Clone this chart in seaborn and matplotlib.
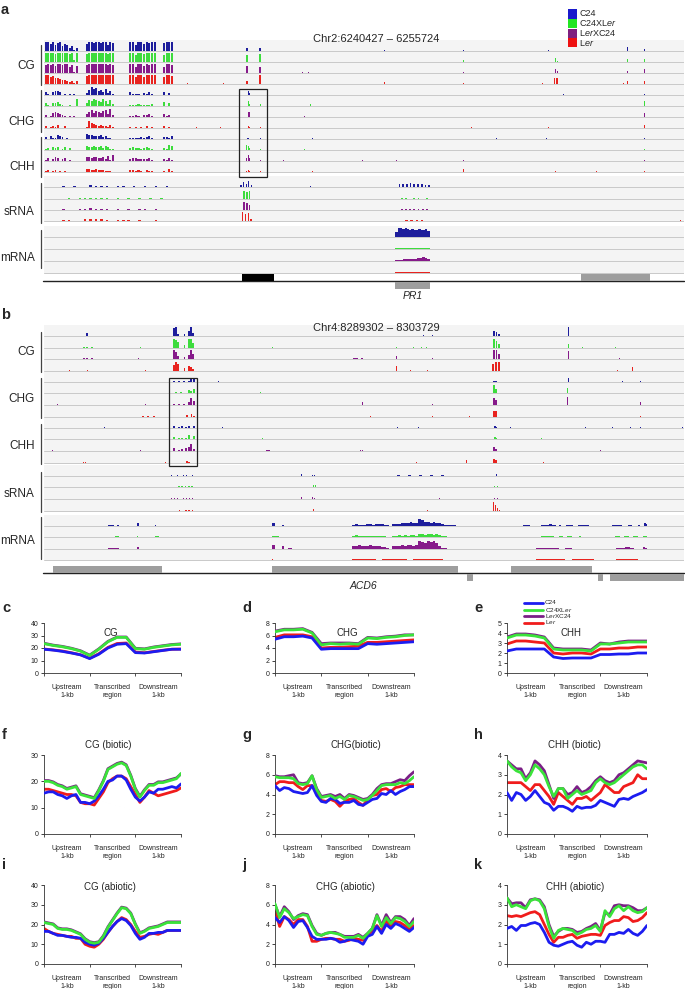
import numpy as np
import pandas as pd
import seaborn as sns
import matplotlib
matplotlib.use("Agg")
import matplotlib.pyplot as plt
from matplotlib.patches import Rectangle
from matplotlib.lines import Line2D
from matplotlib import font_manager

W, H = 685, 989

sns.set_theme(style="white")
installed = {f.name for f in font_manager.fontManager.ttflist}
main_font = "Liberation Sans Narrow" if "Liberation Sans Narrow" in installed else "Liberation Sans"
plt.rcParams["font.family"] = [main_font, "DejaVu Sans"]
plt.rcParams["mathtext.fontset"] = "custom"
plt.rcParams["mathtext.rm"] = main_font
plt.rcParams["mathtext.it"] = main_font + ":italic"

samples = ["C24", "C24XLer", "LerXC24", "Ler"]
sample_labels = ["C24", "C24XL$\\it{er}$", "L$\\it{er}$XC24", "L$\\it{er}$"]
groups = ["CG", "CHG", "CHH", "sRNA", "mRNA"]

# ---------------- genome browser tracks: (start kb, end kb, bar heights) ----------------
a_region = "Chr2:6240427 – 6255724"
a_length_kb = 15.297
b_region = "Chr4:8289302 – 8303729"
b_length_kb = 14.427

a_cg_c24 = [(0.02, 0.81, [0.9, 1.0, 0.7, 0.95, 0.6, 0.85, 0.9, 0.5, 0.75, 0.6, 0.35, 0.55, 0.15, 0.3]),
            (1.00, 1.67, [0.7, 0.95, 1.0, 0.8, 1.0, 0.9, 0.85, 1.0, 0.95, 0.6, 1.0, 0.8]),
            (2.03, 2.68, [0.9, 1.0, 0.6, 1.0, 0.95, 0.7, 1.0, 0.85, 1.0, 1.0]),
            (2.84, 3.08, [0.8, 1.0, 0.9, 1.0]),
            (4.83, 4.87, [0.3]), (5.14, 5.18, [0.35]), (8.13, 8.16, [0.1]), (10.0, 10.03, [0.15]),
            (12.05, 12.08, [0.08]), (13.92, 13.95, [0.45]), (14.33, 14.36, [0.25])]
a_cg_f1 = [(0.02, 0.81, [0.95, 1.0, 0.9, 1.0, 0.85, 0.95, 1.0, 0.9, 0.95, 1.0, 0.8, 0.9, 0.2, 0.9]),
           (1.00, 1.67, [0.8, 1.0, 1.0, 0.95, 1.0, 1.0, 0.9, 1.0, 1.0, 0.85, 1.0, 0.9]),
           (2.03, 2.68, [1.0, 1.0, 0.7, 1.0, 1.0, 0.8, 1.0, 0.9, 1.0, 1.0]),
           (2.84, 3.08, [0.7, 1.0, 1.0, 0.9]),
           (4.83, 4.87, [0.75]), (5.14, 5.18, [0.8]), (10.0, 10.03, [0.2]), (12.2, 12.24, [0.4]),
           (12.27, 12.3, [0.15]), (13.92, 13.95, [0.3]), (14.33, 14.36, [0.35])]
a_cg_f2 = [(0.02, 0.81, [0.85, 0.9, 0.8, 0.9, 0.7, 0.9, 0.95, 0.8, 0.9, 0.95, 0.6, 0.8, 0.1, 0.7]),
           (1.00, 1.67, [0.8, 0.95, 1.0, 0.9, 1.0, 0.95, 0.9, 1.0, 1.0, 0.8, 0.95, 0.85]),
           (2.03, 2.68, [0.9, 0.95, 0.6, 0.95, 1.0, 0.7, 0.9, 0.85, 1.0, 0.95]),
           (2.84, 3.08, [0.6, 0.9, 0.95, 0.85]),
           (3.5, 3.52, [0.08]), (3.98, 4.0, [0.08]), (4.83, 4.87, [0.7]), (5.14, 5.18, [0.6]),
           (6.16, 6.19, [0.1]), (6.3, 6.33, [0.1]), (10.0, 10.03, [0.15]), (12.2, 12.24, [0.45]),
           (12.27, 12.3, [0.2]), (13.92, 13.95, [0.25]), (14.33, 14.36, [0.45])]
a_cg_ler = [(0.02, 0.81, [0.9, 0.95, 0.7, 0.85, 0.6, 0.6, 0.5, 0.4, 0.45, 0.3, 0.25, 0.3, 0.1, 0.35]),
            (1.00, 1.67, [0.8, 1.0, 1.0, 0.95, 1.0, 1.0, 1.0, 1.0, 0.95, 0.9, 1.0, 0.9]),
            (2.03, 2.68, [0.95, 1.0, 0.7, 1.0, 1.0, 0.75, 1.0, 0.9, 1.0, 0.95]),
            (2.84, 3.08, [0.7, 0.95, 1.0, 0.85]),
            (3.42, 3.45, [0.08]), (4.27, 4.3, [0.1]), (4.83, 4.87, [0.3]), (5.14, 5.18, [0.9]),
            (8.13, 8.16, [0.2]), (8.5, 8.52, [0.08]), (10.0, 10.03, [0.1]), (11.9, 11.93, [0.1]),
            (12.18, 12.21, [0.6]), (12.24, 12.28, [0.6]), (13.83, 13.86, [0.1]), (13.92, 13.95, [0.3]),
            (14.33, 14.36, [0.3])]

a_chg_c24 = [(0.02, 0.81, [0.35, 0.1, 0.0, 0.3, 0.45, 0.4, 0.3, 0.0, 0.15, 0.0, 0.1, 0.0, 0.1, 0.0]),
             (1.00, 1.67, [0.2, 0.5, 0.8, 0.6, 0.7, 0.4, 0.5, 0.3, 0.6, 0.2, 0.4, 0.1]),
             (2.03, 2.68, [0.3, 0.15, 0.15, 0.1, 0.0, 0.2, 0.1, 0.3, 0.15, 0.0]),
             (2.84, 3.08, [0.3, 0.0, 0.25, 0.0]),
             (4.88, 4.93, [0.4, 0.2]), (12.4, 12.43, [0.08]), (14.34, 14.37, [0.1])]
a_chg_f1 = [(0.02, 0.81, [0.3, 0.1, 0.0, 0.35, 0.3, 0.4, 0.2, 0.1, 0.0, 0.0, 0.1, 0.0, 0.0, 0.75]),
            (1.00, 1.67, [0.3, 0.6, 0.5, 0.7, 0.6, 0.5, 0.4, 0.7, 0.5, 0.2, 0.6, 0.2]),
            (2.03, 2.68, [0.1, 0.15, 0.1, 0.2, 0.1, 0.15, 0.1, 0.1, 0.2, 0.0]),
            (2.84, 3.08, [0.4, 0.0, 0.3, 0.0]),
            (4.88, 4.93, [0.5, 0.2]), (5.15, 5.18, [0.2]), (6.35, 6.38, [0.2]), (14.34, 14.37, [0.5])]
a_chg_f2 = [(0.02, 0.81, [0.25, 0.0, 0.1, 0.4, 0.5, 0.45, 0.3, 0.2, 0.1, 0.0, 0.15, 0.0, 0.1, 0.0]),
            (1.00, 1.67, [0.3, 0.5, 0.7, 0.4, 0.6, 0.5, 0.45, 0.6, 0.7, 0.3, 0.8, 0.2]),
            (2.03, 2.68, [0.15, 0.1, 0.2, 0.1, 0.0, 0.2, 0.25, 0.3, 0.1, 0.0]),
            (2.84, 3.08, [0.3, 0.1, 0.2, 0.0]),
            (4.88, 4.93, [0.55, 0.5]), (6.2, 6.23, [0.1]), (14.34, 14.37, [0.4])]
a_chg_ler = [(0.02, 0.81, [0.2, 0.0, 0.1, 0.25, 0.1, 0.3, 0.0, 0.0, 0.2, 0.0, 0.0, 0.0, 0.0, 0.0]),
             (1.00, 1.67, [0.1, 0.7, 0.5, 0.4, 0.3, 0.2, 0.35, 0.25, 0.2, 0.1, 0.3, 0.1]),
             (2.03, 2.68, [0.1, 0.0, 0.15, 0.0, 0.1, 0.0, 0.25, 0.0, 0.1, 0.0]),
             (2.84, 3.08, [0.2, 0.0, 0.15, 0.0]),
             (3.62, 3.65, [0.1]), (4.2, 4.23, [0.1]), (4.88, 4.93, [0.25, 0.1]), (5.15, 5.18, [0.15]),
             (10.2, 10.23, [0.1]), (12.05, 12.08, [0.1]), (14.34, 14.37, [0.3])]

a_chh_c24 = [(0.02, 0.81, [0.2, 0.0, 0.3, 0.1, 0.1, 0.45, 0.3, 0.2, 0.0, 0.1, 0.0, 0.0, 0.0, 0.0]),
             (1.00, 1.67, [0.5, 0.4, 0.4, 0.35, 0.3, 0.3, 0.4, 0.2, 0.3, 0.1, 0.1, 0.0]),
             (2.03, 2.68, [0.1, 0.1, 0.1, 0.15, 0.2, 0.15, 0.2, 0.3, 0.1, 0.0]),
             (2.84, 3.08, [0.2, 0.25, 0.1, 0.3]),
             (4.85, 4.9, [0.1, 0.1]), (5.15, 5.18, [0.1]), (6.4, 6.43, [0.08]), (10.8, 10.84, [0.08]),
             (12.0, 12.03, [0.08]), (14.34, 14.37, [0.08])]
a_chh_f1 = [(0.02, 0.81, [0.1, 0.25, 0.0, 0.3, 0.2, 0.35, 0.0, 0.1, 0.3, 0.0, 0.2, 0.0, 0.0, 0.0]),
            (1.00, 1.67, [0.4, 0.35, 0.3, 0.4, 0.35, 0.3, 0.4, 0.2, 0.4, 0.3, 0.1, 0.1]),
            (2.03, 2.68, [0.2, 0.3, 0.25, 0.2, 0.1, 0.2, 0.3, 0.2, 0.1, 0.0]),
            (2.84, 3.08, [0.2, 0.1, 0.5, 0.4]),
            (4.83, 4.93, [0.5, 0.45, 0.2]), (5.15, 5.18, [0.1]), (6.2, 6.23, [0.1]), (14.34, 14.37, [0.08])]
a_chh_f2 = [(0.02, 0.81, [0.15, 0.3, 0.0, 0.2, 0.4, 0.3, 0.0, 0.25, 0.3, 0.0, 0.1, 0.0, 0.0, 0.0]),
            (1.00, 1.67, [0.4, 0.4, 0.35, 0.4, 0.4, 0.35, 0.3, 0.4, 0.2, 0.5, 0.1, 0.6]),
            (2.03, 2.68, [0.2, 0.3, 0.3, 0.2, 0.2, 0.25, 0.2, 0.3, 0.1, 0.0]),
            (2.84, 3.08, [0.2, 0.1, 0.3, 0.1]),
            (4.83, 4.93, [0.3, 0.6, 0.3]), (5.15, 5.18, [0.08]), (5.7, 5.73, [0.08]), (7.6, 7.64, [0.08]),
            (8.4, 8.43, [0.08]), (10.0, 10.03, [0.08]), (14.34, 14.37, [0.1])]
a_chh_ler = [(0.02, 0.81, [0.1, 0.25, 0.0, 0.1, 0.2, 0.0, 0.15, 0.0, 0.1, 0.0, 0.0, 0.0, 0.0, 0.0]),
             (1.00, 1.67, [0.3, 0.3, 0.2, 0.25, 0.3, 0.2, 0.25, 0.2, 0.15, 0.1, 0.1, 0.0]),
             (2.03, 2.68, [0.2, 0.25, 0.1, 0.2, 0.1, 0.0, 0.2, 0.15, 0.1, 0.0]),
             (2.84, 3.08, [0.15, 0.0, 0.3, 0.1]),
             (4.83, 4.93, [0.15, 0.2, 0.1]), (5.15, 5.18, [0.1]), (6.4, 6.43, [0.1]), (10.0, 10.03, [0.3]),
             (12.2, 12.23, [0.1]), (13.2, 13.23, [0.08]), (14.34, 14.37, [0.1])]

a_srna_c24 = [(0.4, 3.0, [0.08, 0.0, 0.1, 0.0, 0.0, 0.2, 0.1, 0.15, 0.1, 0.0, 0.1, 0.08, 0.0, 0.1, 0.0, 0.08, 0.0, 0.08, 0.0, 0.08]),
              (4.68, 4.98, [0.2, 0.5, 0.35, 0.6, 0.2]), (6.35, 6.38, [0.08]),
              (8.45, 9.25, [0.3, 0.35, 0.3, 0.4, 0.35, 0.3, 0.35, 0.25, 0.2])]
a_srna_f1 = [(0.4, 3.0, [0.0, 0.08, 0.0, 0.08, 0.1, 0.08, 0.1, 0.08, 0.08, 0.0, 0.08, 0.0, 0.08, 0.0, 0.08, 0.0, 0.08, 0.0, 0.08, 0.0]),
             (4.75, 4.95, [0.8, 0.75, 0.8]), (8.5, 9.2, [0.08, 0.08, 0.0, 0.08, 0.08, 0.0, 0.08]), (10.5, 10.52, [0.08])]
a_srna_f2 = [(0.4, 3.0, [0.08, 0.0, 0.0, 0.1, 0.15, 0.2, 0.1, 0.1, 0.08, 0.0, 0.1, 0.0, 0.08, 0.0, 0.08, 0.08, 0.0, 0.08, 0.0, 0.0]),
             (4.75, 4.95, [0.8, 0.7, 0.5]), (8.5, 9.2, [0.1, 0.1, 0.08, 0.1, 0.1, 0.08, 0.1])]
a_srna_ler = [(0.4, 3.0, [0.08, 0.1, 0.0, 0.0, 0.2, 0.25, 0.2, 0.2, 0.15, 0.0, 0.1, 0.1, 0.08, 0.0, 0.08, 0.0, 0.0, 0.08, 0.0, 0.0]),
              (4.72, 4.98, [0.9, 0.7, 0.85, 0.2]), (8.6, 9.1, [0.1, 0.15, 0.1, 0.15]), (15.2, 15.23, [0.08])]

a_mrna_c24 = [(8.4, 9.22, [0.5, 1.0, 0.95, 0.85, 0.9, 0.8, 0.75, 0.8, 0.7, 0.75, 0.8, 0.75, 0.7, 0.8, 0.6])]
a_mrna_f1 = [(8.4, 9.22, [0.1, 0.1, 0.1, 0.1, 0.1, 0.1, 0.1, 0.1, 0.1, 0.1])]
a_mrna_f2 = [(8.4, 9.22, [0.1, 0.15, 0.15, 0.2, 0.2, 0.2, 0.2, 0.25, 0.25, 0.3, 0.35, 0.4, 0.35, 0.2])]
a_mrna_ler = [(8.4, 9.22, [0.08, 0.08, 0.08, 0.08, 0.08, 0.08, 0.08, 0.08, 0.08, 0.08])]

a_tracks = {"CG": [a_cg_c24, a_cg_f1, a_cg_f2, a_cg_ler],
            "CHG": [a_chg_c24, a_chg_f1, a_chg_f2, a_chg_ler],
            "CHH": [a_chh_c24, a_chh_f1, a_chh_f2, a_chh_ler],
            "sRNA": [a_srna_c24, a_srna_f1, a_srna_f2, a_srna_ler],
            "mRNA": [a_mrna_c24, a_mrna_f1, a_mrna_f2, a_mrna_ler]}
a_highlight = (4.66, 5.33)
a_exon_black = [(4.73, 5.50)]
a_exon_top = [(12.83, 14.48)]
a_exon_bottom = [(8.39, 9.23)]
a_gene_name = ("PR1", 8.81)

b_cg_c24 = [(0.95, 1.0, [0.3]), (2.91, 3.05, [0.8, 1.0, 0.2]), (3.15, 3.19, [0.2]), (3.24, 3.38, [0.5, 1.0, 0.3]),
            (8.54, 8.56, [0.08]), (8.75, 8.77, [0.08]), (10.12, 10.28, [0.5, 0.4, 0.25]), (11.8, 11.84, [0.9])]
b_cg_f1 = [(0.88, 1.12, [0.15, 0.15, 0.0, 0.15]), (2.16, 2.18, [0.08]), (2.91, 3.05, [1.0, 0.8, 0.6]),
           (3.15, 3.19, [0.3]), (3.24, 3.38, [1.0, 1.0, 0.5]), (5.14, 5.16, [0.08]), (7.93, 7.96, [0.1]),
           (8.32, 8.35, [0.08]), (8.5, 8.53, [0.08]), (8.6, 8.63, [0.08]), (10.12, 10.28, [1.0, 0.7, 0.45]),
           (11.8, 11.84, [0.45]), (12.13, 12.16, [0.08]), (12.87, 12.9, [0.08])]
b_cg_f2 = [(0.88, 1.12, [0.15, 0.1, 0.0, 0.15]), (2.12, 2.14, [0.08]), (2.91, 3.05, [1.0, 0.7, 0.3]),
           (3.15, 3.19, [0.25]), (3.24, 3.38, [0.4, 0.9, 0.5]), (6.95, 7.2, [0.08, 0.08, 0.0, 0.08]),
           (7.93, 7.96, [0.3]), (8.75, 8.77, [0.1]), (10.12, 10.28, [1.0, 0.9, 0.5]), (11.8, 11.84, [0.8]),
           (12.96, 12.99, [0.08])]
b_cg_ler = [(0.56, 0.58, [0.1]), (0.97, 1.0, [0.15]), (2.28, 2.3, [0.1]), (2.91, 3.05, [0.6, 1.0, 0.7]),
            (3.15, 3.19, [0.3]), (3.24, 3.38, [0.5, 0.4, 0.2]), (7.93, 7.96, [0.5]), (8.25, 8.27, [0.08]),
            (8.63, 8.65, [0.08]), (10.1, 10.28, [0.7, 1.0, 1.0]), (12.92, 12.95, [0.08]), (13.25, 13.28, [0.45])]

b_chg_c24 = [(2.91, 3.4, [0.1, 0.0, 0.1, 0.0, 0.1, 0.0, 0.15, 0.35, 0.3]), (3.92, 3.95, [0.08]),
             (10.12, 10.22, [0.15, 0.15]), (11.8, 11.83, [0.4]), (13.03, 13.06, [0.08]), (13.43, 13.46, [0.08])]
b_chg_f1 = [(2.95, 3.4, [0.08, 0.0, 0.08, 0.0, 0.0, 0.35, 0.2, 0.4]), (4.87, 4.9, [0.08]),
            (10.12, 10.22, [0.8, 0.4]), (11.79, 11.82, [0.5])]
b_chg_f2 = [(0.29, 0.31, [0.08]), (2.28, 2.3, [0.08]), (2.91, 3.4, [0.1, 0.0, 0.08, 0.0, 0.1, 0.0, 0.3, 0.7, 0.4]),
            (4.0, 4.02, [0.08]), (7.17, 7.2, [0.35]), (8.75, 8.77, [0.08]), (10.12, 10.22, [0.7, 0.5]),
            (11.79, 11.82, [0.8]), (13.43, 13.46, [0.3])]
b_chg_ler = [(2.2, 2.5, [0.08, 0.0, 0.08, 0.0, 0.08]), (3.2, 3.4, [0.2, 0.0, 0.3, 0.15]), (7.35, 7.37, [0.08]),
             (8.75, 8.77, [0.08]), (9.58, 9.6, [0.08]), (10.12, 10.22, [0.6, 0.6]), (13.43, 13.46, [0.08])]

b_chh_c24 = [(1.35, 1.37, [0.1]), (2.91, 3.4, [0.25, 0.0, 0.1, 0.2, 0.0, 0.15, 0.25, 0.0, 0.2]), (4.01, 4.03, [0.08]),
             (7.96, 7.98, [0.08]), (8.43, 8.45, [0.08]), (10.15, 10.22, [0.2, 0.15]), (10.5, 10.52, [0.1]),
             (12.19, 12.22, [0.08]), (12.8, 12.83, [0.08]), (13.21, 13.24, [0.1]), (13.43, 13.46, [0.08]),
             (14.38, 14.41, [0.08])]
b_chh_f1 = [(2.91, 3.4, [0.2, 0.0, 0.08, 0.1, 0.0, 0.1, 0.4, 0.0, 0.35]), (4.91, 4.93, [0.08]),
            (10.15, 10.22, [0.25, 0.15]), (11.2, 11.22, [0.08])]
b_chh_f2 = [(0.18, 0.2, [0.08]), (2.16, 2.18, [0.08]), (2.91, 3.4, [0.3, 0.0, 0.1, 0.2, 0.0, 0.3, 0.45, 0.7, 0.2]),
            (5.0, 5.1, [0.08, 0.08]), (7.12, 7.2, [0.1, 0.08]), (10.12, 10.22, [0.45, 0.2]), (12.53, 12.56, [0.08])]
b_chh_ler = [(0.88, 0.95, [0.1, 0.08]), (2.73, 2.75, [0.15]), (3.2, 3.3, [0.2, 0.1]), (8.38, 8.4, [0.1]),
             (9.51, 9.54, [0.3]), (10.12, 10.22, [0.4, 0.3]), (11.25, 11.27, [0.08])]

b_srna_c24 = [(2.84, 3.38, [0.08, 0.0, 0.08, 0.0, 0.08, 0.08, 0.0, 0.08]), (5.77, 5.84, [0.25]),
              (6.04, 6.12, [0.15, 0.15]), (7.93, 9.05, [0.08, 0.0, 0.08, 0.0, 0.08, 0.0, 0.08, 0.0, 0.08]),
              (10.18, 10.23, [0.2]), (12.5, 12.52, [0.08])]
b_srna_f1 = [(3.0, 3.38, [0.08, 0.08, 0.08, 0.08, 0.08]), (5.8, 5.83, [0.1]), (6.04, 6.14, [0.2, 0.2]),
             (10.12, 10.25, [0.15, 0.15])]
b_srna_f2 = [(2.84, 3.38, [0.08, 0.08, 0.08, 0.0, 0.08, 0.1, 0.08, 0.1]), (5.77, 5.84, [0.2]),
             (6.04, 6.12, [0.2, 0.1]), (8.9, 8.93, [0.08]), (10.12, 10.25, [0.15, 0.1])]
b_srna_ler = [(3.02, 3.38, [0.08, 0.0, 0.08, 0.08, 0.08]), (5.8, 5.83, [0.08]), (6.06, 6.1, [0.2]),
              (8.63, 8.66, [0.08]), (10.1, 10.3, [0.9, 0.6, 0.3, 0.1])]

b_mrna_c24 = [(1.45, 1.7, [0.1, 0.1, 0.0, 0.1]), (2.1, 2.14, [0.35]), (2.5, 2.53, [0.08]), (5.14, 5.2, [0.35]),
              (5.37, 5.42, [0.15]),
              (6.94, 9.28, [0.15, 0.2, 0.15, 0.12, 0.15, 0.2, 0.18, 0.15, 0.2, 0.25, 0.2, 0.15, 0.08, 0.0,
                            0.2, 0.2, 0.25, 0.3, 0.35, 0.3, 0.4, 0.35, 0.3,
                            0.75, 0.6, 0.4, 0.45, 0.35, 0.4, 0.35, 0.3, 0.2, 0.15, 0.1, 0.08, 0.08]),
              (10.8, 10.95, [0.08, 0.08]), (11.2, 11.55, [0.1, 0.15, 0.25, 0.15]), (11.62, 11.66, [0.08]),
              (11.76, 11.92, [0.15, 0.1]), (12.04, 12.28, [0.1, 0.1, 0.1]), (12.8, 13.03, [0.08, 0.08, 0.1]),
              (13.16, 13.26, [0.15, 0.1]), (13.4, 13.43, [0.1]), (13.52, 13.6, [0.35, 0.2])]
b_mrna_f1 = [(1.6, 1.7, [0.08]), (2.1, 2.13, [0.08]), (2.5, 2.6, [0.08, 0.08]), (5.14, 5.3, [0.1, 0.1]),
             (6.94, 9.28, [0.15, 0.18, 0.15, 0.15, 0.12, 0.15, 0.15, 0.12, 0.15, 0.15, 0.12, 0.1, 0.0, 0.0,
                           0.15, 0.15, 0.2, 0.15, 0.2, 0.15, 0.2, 0.2, 0.15,
                           0.3, 0.3, 0.25, 0.3, 0.3, 0.25, 0.3, 0.2, 0.1, 0.08, 0.0, 0.0, 0.0]),
             (11.2, 11.5, [0.08, 0.1, 0.1]), (11.6, 11.9, [0.08, 0.0, 0.08]), (12.05, 12.1, [0.08]),
             (12.87, 13.6, [0.08, 0.0, 0.08, 0.0, 0.08, 0.0, 0.08])]
b_mrna_f2 = [(1.45, 1.7, [0.15, 0.1, 0.1, 0.1]), (2.1, 2.14, [0.2]), (5.14, 5.2, [0.4]), (5.37, 5.42, [0.3]),
             (5.5, 5.6, [0.08]),
             (6.94, 9.28, [0.3, 0.35, 0.4, 0.35, 0.3, 0.35, 0.4, 0.35, 0.3, 0.3, 0.25, 0.2, 0.08, 0.0,
                           0.3, 0.35, 0.3, 0.4, 0.35, 0.45, 0.4, 0.35, 0.4,
                           0.8, 0.75, 0.6, 0.85, 0.7, 0.8, 0.6, 0.3, 0.1, 0.08, 0.0, 0.0, 0.0]),
             (11.1, 11.6, [0.08, 0.15, 0.15, 0.15, 0.1]), (11.75, 11.9, [0.1, 0.1]),
             (12.9, 13.3, [0.08, 0.1, 0.2, 0.1]), (13.5, 13.6, [0.2, 0.15])]
b_mrna_ler = [(5.14, 5.17, [0.08]),
              (6.94, 9.0, [0.08, 0.08, 0.08, 0.08, 0.0, 0.08, 0.08, 0.08, 0.08, 0.0, 0.08, 0.08, 0.08, 0.08, 0.08]),
              (11.1, 12.4, [0.1, 0.1, 0.08, 0.1, 0.0, 0.1, 0.08, 0.1]), (12.9, 13.4, [0.08, 0.1, 0.08, 0.08])]

b_tracks = {"CG": [b_cg_c24, b_cg_f1, b_cg_f2, b_cg_ler],
            "CHG": [b_chg_c24, b_chg_f1, b_chg_f2, b_chg_ler],
            "CHH": [b_chh_c24, b_chh_f1, b_chh_f2, b_chh_ler],
            "sRNA": [b_srna_c24, b_srna_f1, b_srna_f2, b_srna_ler],
            "mRNA": [b_mrna_c24, b_mrna_f1, b_mrna_f2, b_mrna_ler]}
b_highlight = (2.82, 3.45)
b_exon_black = []
b_exon_top = [(0.2, 2.66), (5.14, 9.33), (10.53, 12.35)]
b_exon_bottom = [(9.53, 9.67), (12.49, 12.6), (12.76, 14.43)]
b_gene_name = ("ACD6", 7.19)

# ---------------- metaplot profiles (upstream 0-1, transcribed 1-2, downstream 2-3) ----------------
c_c24 = [19, 18.3, 17.3, 16, 14.5, 11.5, 15, 20, 23, 23.5, 16.3, 16, 17, 18, 19, 19]
c_f1 = [23.5, 22, 21, 19.5, 17.5, 14, 19, 25, 28.5, 28.5, 19.5, 19, 20.5, 21.5, 22.5, 23]
c_f2 = [23.8, 22.3, 21.3, 19.8, 17.8, 14.3, 19.3, 25.3, 28.8, 28.8, 19.8, 19.3, 20.8, 21.8, 22.8, 23.3]
c_ler = [19.2, 18.5, 17.6, 16.2, 14.6, 11.8, 15.4, 20.5, 23.6, 24.0, 16.8, 16.2, 17.2, 18.2, 19.0, 19.2]

d_c24 = [5.4, 5.8, 5.8, 5.9, 5.6, 3.8, 3.9, 3.9, 3.9, 3.9, 4.7, 4.6, 4.7, 4.8, 4.9, 5.0]
d_f1 = [6.6, 6.9, 6.9, 7.0, 6.4, 4.5, 4.7, 4.6, 4.7, 4.6, 5.6, 5.5, 5.7, 5.8, 6.0, 6.1]
d_f2 = [6.7, 7.0, 7.0, 7.1, 6.5, 4.7, 4.8, 4.8, 4.8, 4.7, 5.7, 5.6, 5.8, 5.9, 6.1, 6.1]
d_ler = [5.7, 6.1, 6.1, 6.1, 5.8, 4.0, 4.1, 4.1, 4.2, 4.3, 4.9, 4.9, 5.0, 5.1, 5.2, 5.3]

e_c24 = [2.2, 2.4, 2.4, 2.4, 2.4, 1.6, 1.45, 1.5, 1.5, 1.5, 1.85, 1.85, 1.9, 1.9, 2.0, 2.0]
e_f1 = [3.5, 3.8, 3.8, 3.7, 3.5, 2.4, 2.3, 2.3, 2.3, 2.2, 2.9, 2.9, 3.0, 3.1, 3.1, 3.1]
e_f2 = [3.6, 3.9, 3.9, 3.8, 3.6, 2.5, 2.4, 2.4, 2.4, 2.3, 3.0, 2.9, 3.1, 3.2, 3.2, 3.2]
e_ler = [2.9, 3.2, 3.2, 3.1, 3.0, 2.0, 1.9, 2.0, 2.0, 1.9, 2.4, 2.4, 2.5, 2.5, 2.6, 2.6]

f_c24 = [15.5, 16, 16, 15, 14.5, 13.5, 14.5, 15, 12, 12, 11.5, 12.5, 14.5, 17, 20, 20.5, 22, 22, 20.5, 17, 14,
         12.5, 14, 16, 15.5, 17, 17, 17.5, 18, 17.5, 19]
f_f1 = [20, 20, 19.5, 18.5, 18, 17, 17.5, 18, 15, 14.5, 14, 13.5, 16.5, 20, 24.5, 25.5, 26.5, 27, 26, 22, 17,
        14, 16.5, 18.5, 18.5, 19.5, 19.5, 20, 20.5, 21, 23]
f_f2 = [20.3, 20.3, 19.8, 18.8, 18.3, 17.3, 17.8, 18.3, 15.3, 14.8, 14.3, 13.8, 16.8, 20.3, 24.8, 25.8, 26.8,
        27.3, 26.3, 22.3, 17.3, 14.3, 16.8, 18.8, 18.8, 19.8, 19.8, 20.3, 20.8, 21.3, 22.8]
f_ler = [17, 17, 16.5, 16, 15.5, 15, 15, 14.5, 12, 11.5, 11.5, 11, 13.5, 16, 19.5, 21, 22, 22, 21, 18, 15, 12,
         14, 16.5, 15.5, 14.5, 15, 15.5, 16, 16.5, 17.5]

g_c24 = [4.9, 4.4, 4.7, 4.6, 4.3, 4.2, 4.1, 4.2, 4.9, 3.9, 3.3, 3.2, 3.6, 3.5, 3.1, 3.2, 3.2, 3.4, 3.0, 2.9, 3.2,
         3.5, 3.6, 4.1, 4.0, 4.4, 4.0, 4.3, 4.5, 4.8, 4.8]
g_f1 = [5.8, 5.7, 5.7, 5.7, 5.6, 5.1, 5.0, 5.1, 5.9, 4.5, 3.7, 3.8, 3.9, 3.6, 3.8, 3.5, 3.9, 3.8, 3.6, 3.4, 3.5,
        3.9, 4.4, 4.9, 5.0, 5.0, 5.0, 5.2, 5.1, 5.4, 5.8]
g_f2 = [5.9, 5.8, 5.8, 5.9, 6.0, 5.2, 5.1, 5.2, 5.9, 4.6, 3.8, 3.9, 4.0, 3.8, 4.0, 3.6, 4.0, 3.9, 3.7, 3.5, 3.6,
        4.0, 4.6, 5.0, 5.1, 5.1, 5.3, 5.5, 5.4, 5.9, 6.3]
g_ler = [5.0, 5.3, 5.3, 5.2, 5.2, 4.8, 4.5, 4.9, 4.9, 4.1, 3.4, 3.3, 3.5, 3.3, 2.8, 3.3, 3.5, 3.6, 3.2, 2.9, 3.5,
         3.9, 4.0, 4.5, 4.6, 4.3, 4.7, 4.8, 5.0, 5.0, 5.0]

h_c24 = [2.1, 1.7, 2.1, 2.0, 1.7, 1.9, 2.2, 1.9, 1.6, 1.5, 1.2, 1.4, 1.4, 1.3, 1.15, 1.4, 1.3, 1.35, 1.35, 1.45,
         1.7, 1.6, 1.5, 1.4, 1.75, 1.8, 1.75, 1.9, 2.0, 2.1, 2.25]
h_f1 = [3.7, 3.4, 3.2, 3.1, 2.7, 3.0, 3.5, 3.3, 3.0, 2.4, 1.9, 2.3, 2.3, 1.8, 2.0, 2.2, 2.0, 2.1, 2.2, 2.6, 2.8,
        2.6, 2.5, 2.6, 2.8, 3.0, 3.2, 3.4, 3.5, 3.5, 3.3]
h_f2 = [3.7, 3.5, 3.3, 3.3, 2.8, 3.1, 3.7, 3.5, 3.2, 2.5, 1.8, 2.3, 2.3, 2.0, 2.1, 2.4, 2.1, 2.2, 2.4, 2.7, 2.9,
        2.7, 2.6, 2.7, 3.0, 3.1, 3.3, 3.5, 3.7, 3.65, 3.6]
h_ler = [2.6, 2.6, 2.6, 2.6, 2.4, 2.2, 2.5, 2.5, 2.2, 1.9, 1.5, 2.1, 1.9, 1.7, 1.5, 1.8, 1.8, 1.9, 1.7, 1.9, 2.1,
         2.5, 2.3, 2.1, 2.1, 2.4, 2.5, 2.6, 3.0, 2.8, 2.8]

i_c24 = [16.5, 16.5, 15.5, 14.5, 14.5, 14, 13.5, 13.5, 13, 11, 10, 9.5, 10.5, 13, 16, 19, 21.5, 23, 22, 19.5,
         15.5, 12.5, 13.5, 15.5, 15.5, 16, 16, 17, 17, 17, 17]
i_f1 = [21, 20.5, 20, 18, 17.5, 17.5, 17, 16, 15, 12.5, 11, 10.5, 11, 14, 18.5, 22, 25.5, 28.5, 28, 25.5, 20,
        15.5, 16.5, 18, 18.5, 19, 20, 21, 21, 21, 21]
i_f2 = [21.3, 20.8, 20.3, 18.3, 17.8, 17.8, 17.3, 16.3, 15.3, 12.8, 11.3, 10.8, 11.3, 14.3, 18.8, 22.3, 25.8,
        28.8, 28.3, 25.8, 20.3, 15.8, 16.8, 18.3, 18.8, 19.3, 20.3, 21.3, 21.3, 21.3, 21.3]
i_ler = [18, 16.5, 15.5, 15, 14.5, 14, 14, 13, 13, 10, 9, 8.5, 10, 12.5, 16, 19, 21.5, 23.5, 22.5, 20, 16.5,
         13.5, 14, 15, 15.5, 15, 16, 17, 17, 17, 17]

j_c24 = [4.7, 4.2, 4.8, 4.4, 3.7, 4.3, 4.4, 3.7, 2.8, 2.5, 2.5, 2.5, 2.6, 2.5, 2.2, 2.3, 2.5, 2.4, 2.3, 2.0, 2.8,
         3.0, 3.8, 3.1, 4.0, 3.6, 4.1, 3.9, 3.6, 3.3, 3.7]
j_f1 = [6.1, 4.7, 5.6, 5.2, 4.6, 4.8, 5.0, 4.9, 3.8, 3.0, 2.9, 3.1, 3.2, 3.1, 3.0, 2.7, 2.7, 2.7, 2.9, 2.6, 3.1,
        3.6, 4.9, 3.8, 4.7, 4.1, 4.7, 4.6, 4.3, 3.8, 4.3]
j_f2 = [6.0, 4.8, 5.8, 5.3, 4.5, 4.9, 5.1, 5.0, 3.9, 3.1, 2.9, 3.1, 3.2, 3.2, 3.0, 2.8, 2.8, 2.8, 3.0, 2.7, 3.1,
        3.6, 5.0, 3.9, 5.0, 4.2, 4.8, 4.8, 4.5, 3.9, 4.6]
j_ler = [5.5, 3.8, 4.8, 4.5, 4.0, 4.5, 4.5, 3.8, 2.3, 2.3, 2.5, 2.6, 2.6, 2.5, 2.5, 2.3, 2.4, 2.6, 2.5, 2.4, 3.0,
         3.3, 3.9, 3.3, 4.4, 3.8, 4.3, 4.2, 3.9, 3.5, 3.9]

k_c24 = [1.8, 1.9, 1.7, 1.95, 1.95, 2.05, 2.1, 2.0, 1.6, 1.1, 0.95, 0.9, 1.0, 1.1, 1.15, 0.95, 0.85, 1.1, 1.0,
         1.15, 1.15, 1.1, 1.5, 1.5, 1.6, 1.55, 1.75, 1.55, 1.45, 1.65, 1.95]
k_f1 = [3.35, 2.9, 3.0, 2.9, 2.8, 3.2, 3.3, 3.2, 2.8, 1.9, 1.3, 1.7, 1.8, 1.75, 1.7, 1.5, 1.6, 1.75, 1.8, 1.95,
        1.65, 2.7, 2.4, 2.8, 2.95, 2.7, 2.9, 2.7, 2.6, 2.65, 2.85]
k_f2 = [3.35, 3.05, 3.1, 3.1, 2.85, 3.25, 3.3, 3.25, 2.9, 2.0, 1.4, 1.65, 1.8, 1.8, 1.75, 1.6, 1.65, 1.8, 1.9,
        2.05, 1.7, 2.6, 2.5, 2.95, 3.0, 2.95, 2.95, 2.85, 2.7, 2.7, 2.85]
k_ler = [2.45, 2.4, 2.45, 2.4, 2.5, 2.6, 2.65, 2.5, 2.0, 1.5, 1.1, 1.35, 1.35, 1.45, 1.5, 1.3, 1.4, 1.45, 1.5,
         1.5, 1.45, 1.95, 2.1, 2.2, 2.2, 2.4, 2.35, 2.15, 2.2, 2.35, 2.6]

profile_titles = ["CG", "CHG", "CHH", "CG (biotic)", "CHG(biotic)", "CHH (biotic)",
                  "CG (abiotic)", "CHG (abiotic)", "CHH (abiotic)"]
profile_letters = ["c", "d", "e", "f", "g", "h", "i", "j", "k"]
profile_ymax = [40, 8, 5, 30, 8, 4, 40, 8, 4]
profile_ystep = [10, 2, 1, 10, 2, 1, 10, 2, 1]
profiles = [[c_c24, c_f1, c_f2, c_ler], [d_c24, d_f1, d_f2, d_ler], [e_c24, e_f1, e_f2, e_ler],
            [f_c24, f_f1, f_f2, f_ler], [g_c24, g_f1, g_f2, g_ler], [h_c24, h_f1, h_f2, h_ler],
            [i_c24, i_f1, i_f2, i_ler], [j_c24, j_f1, j_f2, j_ler], [k_c24, k_f1, k_f2, k_ler]]
region_labels = ["Upstream\n1-kb", "Transcribed\nregion", "Downstream\n1-kb"]

# ---------------- styling ----------------
track_colors = ["#1e1e9c", "#3ddc3d", "#861a8a", "#e8231f"]
line_colors = ["#1c1cf0", "#3ae33a", "#7b1f86", "#f01c1c"]
legend_colors = ["#1a1acc", "#22e622", "#7f1f7f", "#ee1111"]
draw_order = [3, 0, 2, 1]   # red, blue, purple, green (green on top)


def fx(px):
    return px / W


def fy(py):
    return 1 - py / H


def add_rect_axes(x0, y0, x1, y1):
    return fig.add_axes([fx(x0), fy(y1), (x1 - x0) / W, (y1 - y0) / H])


fig = plt.figure(figsize=(W / 100, H / 100), dpi=100, facecolor="white")

a_layout = {"top": 30, "bottom": 300,
            "baselines": {"CG": [51, 62, 73, 84], "CHG": [95, 106, 117, 128], "CHH": [139, 150, 161, 172],
                          "sRNA": [187, 199, 210, 221], "mRNA": [237, 249, 261, 273]},
            "labels": {"CG": 66, "CHG": 122, "CHH": 167, "sRNA": 212, "mRNA": 258},
            "brackets": {"CG": (45, 85), "CHG": (90, 132), "CHH": (137, 177), "sRNA": (183, 223), "mRNA": (230, 268)},
            "highlight_y": (89, 177), "gene_y": 281, "title_y": 39, "letter_y": 10, "name_y": 296}
b_layout = {"top": 320, "bottom": 595,
            "baselines": {"CG": [336, 348, 359, 371], "CHG": [382, 393, 405, 417], "CHH": [428, 439, 451, 463],
                          "sRNA": [476, 487, 499, 511], "mRNA": [526, 537, 549, 560]},
            "labels": {"CG": 352, "CHG": 399, "CHH": 446, "sRNA": 494, "mRNA": 541},
            "brackets": {"CG": (332, 372), "CHG": (378, 418), "CHH": (424, 464), "sRNA": (472, 512), "mRNA": (517, 559)},
            "highlight_y": (378, 466), "gene_y": 573, "title_y": 328, "letter_y": 315, "name_y": 586}
bar_fill = {"CG": 0.8, "CHG": 0.8, "CHH": 0.8, "sRNA": 0.45, "mRNA": 1.0}


def draw_browser(letter, region, length_kb, tracks, lay, highlight, exon_black, exon_top, exon_bottom, gene_name):
    ax = add_rect_axes(44, lay["top"], 684, lay["bottom"])
    ax.set_xlim(0, length_kb)
    ax.set_ylim(lay["bottom"], lay["top"])
    ax.axis("off")
    row_h = 9.5
    for g in groups:
        ys = lay["baselines"][g]
        ax.add_patch(Rectangle((0, ys[0] - row_h - 1.5), length_kb, ys[-1] - ys[0] + row_h + 2,
                               facecolor="#f4f4f4", edgecolor="none", zorder=0))
        for y in ys:
            ax.plot([0, length_kb], [y + 0.4, y + 0.4], color="#c9c9c9", lw=0.7, zorder=1)
        for si, (y, segs) in enumerate(zip(ys, tracks[g])):
            for start, end, hs in segs:
                hs = np.asarray(hs, dtype=float)
                n = len(hs)
                w = (end - start) / n
                xs = start + w * (np.arange(n) + 0.5)
                keep = hs > 0
                hpx = np.maximum(hs[keep] * row_h, 0.9)
                ax.bar(xs[keep], -hpx, width=w * bar_fill[g], bottom=y, color=track_colors[si],
                       linewidth=0, zorder=2)
        top, bot = lay["brackets"][g]
        fig.add_artist(Line2D([fx(41), fx(41)], [fy(top), fy(bot)], color="#444444", lw=0.9))
        fig.text(fx(35), fy(lay["labels"][g]), g, ha="right", va="center", fontsize=8.5)
    y0, y1 = lay["highlight_y"]
    ax.add_patch(Rectangle((highlight[0], y0), highlight[1] - highlight[0], y1 - y0,
                           facecolor="none", edgecolor="#222222", lw=0.9, zorder=4))
    gy = lay["gene_y"]
    ax.plot([-0.03, length_kb], [gy, gy], color="#222222", lw=1.0, zorder=3, clip_on=False)
    for s, e in exon_black:
        ax.add_patch(Rectangle((s, gy - 7), e - s, 7, facecolor="black", edgecolor="none", zorder=3))
    for s, e in exon_top:
        ax.add_patch(Rectangle((s, gy - 7), e - s, 7, facecolor="#9e9e9e", edgecolor="none", zorder=3))
    for s, e in exon_bottom:
        ax.add_patch(Rectangle((s, gy + 1), e - s, 7, facecolor="#9e9e9e", edgecolor="none", zorder=3))
    ax.text(gene_name[1], lay["name_y"], gene_name[0], ha="center", va="center", fontsize=7.5,
            style="italic", clip_on=False)
    fig.text(fx(376), fy(lay["title_y"]), region, ha="center", va="center", fontsize=8)
    fig.text(fx(1), fy(lay["letter_y"]), letter, ha="left", va="center", fontsize=10.5, fontweight="bold")


draw_browser("a", a_region, a_length_kb, a_tracks, a_layout, a_highlight, a_exon_black, a_exon_top,
             a_exon_bottom, a_gene_name)
draw_browser("b", b_region, b_length_kb, b_tracks, b_layout, b_highlight, b_exon_black, b_exon_top,
             b_exon_bottom, b_gene_name)

# top legend of the browser panels
top_legend_y = [14, 23.5, 33, 42.5]
for k, (lab, col) in enumerate(zip(sample_labels, legend_colors)):
    yc = top_legend_y[k]
    fig.add_artist(Rectangle((fx(568), fy(yc + 4.5)), 9 / W, 9 / H, transform=fig.transFigure,
                             facecolor=col, edgecolor="none"))
    fig.text(fx(579), fy(yc), lab, ha="left", va="center", fontsize=6.5)

# ---------------- metaplots ----------------
col_px = [(44, 181), (275, 414), (507, 647)]
row_px = [(623, 673), (755, 834), (885, 964)]
letter_x = [2, 242, 474]
letter_y = [608, 735, 865]
title_pos = [(0.49, 0.80), (0.52, 0.80), (0.46, 0.80),
             (0.47, 1.13), (0.58, 1.13), (0.48, 1.13),
             (0.48, 0.97), (0.51, 0.97), (0.49, 0.97)]
e_legend_y = [603, 609.5, 616, 622.5]

for p in range(9):
    r, c = divmod(p, 3)
    x0, x1 = col_px[c]
    y0, y1 = row_px[r]
    ax = add_rect_axes(x0, y0, x1, y1)
    series = profiles[p]
    for z, si in enumerate(draw_order):
        vals = series[si]
        xs = np.linspace(0, 3, len(vals))
        df = pd.DataFrame({"pos": xs, "level": vals})
        sns.lineplot(data=df, x="pos", y="level", color=line_colors[si], linewidth=2.0, ax=ax,
                     zorder=2 + z)
    ax.set_xlim(0, 3)
    ax.set_ylim(0, profile_ymax[p])
    ax.set_yticks(np.arange(0, profile_ymax[p] + 0.01, profile_ystep[p]))
    ax.set_xticks([0.5, 1.5, 2.5])
    ax.set_xticklabels(region_labels)
    ax.set_xticks([0, 1, 2, 3], minor=True)
    ax.set_xlabel("")
    ax.set_ylabel("")
    sns.despine(ax=ax)
    for sp in ["left", "bottom"]:
        ax.spines[sp].set_color("#333333")
        ax.spines[sp].set_linewidth(0.6)
    ax.tick_params(axis="x", which="major", bottom=False, labelsize=5, pad=2, colors="#222222")
    ax.tick_params(axis="x", which="minor", bottom=True, length=2.5, width=0.6, color="#333333")
    ax.tick_params(axis="y", left=True, length=2.5, width=0.6, labelsize=5, pad=1.5, colors="#222222")
    ax.text(title_pos[p][0], title_pos[p][1], profile_titles[p], transform=ax.transAxes,
            ha="center", va="center", fontsize=7)
    fig.text(fx(letter_x[c]), fy(letter_y[r]), profile_letters[p], ha="left", va="center",
             fontsize=10.5, fontweight="bold")

# legend of the metaplots (drawn beside panel e)
for k in range(4):
    yl = e_legend_y[k]
    fig.add_artist(Line2D([fx(524), fx(543)], [fy(yl), fy(yl)], color=line_colors[k], lw=2.0))
    fig.text(fx(545), fy(yl), sample_labels[k], ha="left", va="center", fontsize=4.6)

fig.savefig("out.png", dpi=100, facecolor="white")
